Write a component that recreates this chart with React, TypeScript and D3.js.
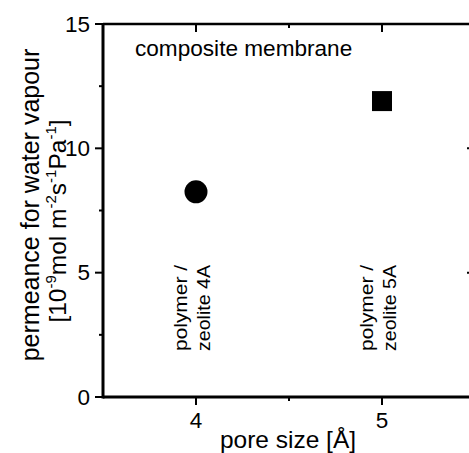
import React from "react";
import * as d3 from "d3";

const poreSizes = [4, 5];
const permeance = [8.25, 11.9];
const markerShapes = ["circle", "square"];
const labelLine1 = ["polymer /", "polymer /"];
const labelLine2 = ["zeolite 4A", "zeolite 5A"];
const xMajorTicks = [4, 5];
const xMinorTicks = [4.5];
const yMajorTicks = [0, 5, 10, 15];
const yMinorTicks = [2.5, 7.5, 12.5];

const W = 469;
const H = 453;
const FONT = "'Liberation Sans', Arial, Helvetica, sans-serif";

export default function App() {
  const x = d3.scaleLinear().domain([3.5, 5.5]).range([103, 475]);
  const y = d3.scaleLinear().domain([0, 15]).range([397, 24]);
  const [x0, x1] = x.range();
  const [yb, yt] = y.range();
  const sw = 2.5;
  const major = 8;
  const minor = 4;

  return (
    <svg
      width={W}
      height={H}
      style={{ position: "absolute", left: 0, top: 0, background: "#fff" }}
      fontFamily={FONT}
    >
      <rect x={0} y={0} width={W} height={H} fill="#fff" />
      {/* frame */}
      <line x1={x0} x2={x1} y1={yt} y2={yt} stroke="#000" strokeWidth={sw} />
      <line x1={x0} x2={x1} y1={yb} y2={yb} stroke="#000" strokeWidth={3} />
      <line x1={x0} x2={x0} y1={yt - 1} y2={yb + 1.5} stroke="#000" strokeWidth={3} />
      <line x1={x1} x2={x1} y1={yt} y2={yb} stroke="#000" strokeWidth={sw} />

      {/* y ticks left (outward) and right (inward) */}
      {yMajorTicks.map((t) => (
        <g key={"ym" + t}>
          <line x1={x0 - major} x2={x0} y1={y(t)} y2={y(t)} stroke="#000" strokeWidth={2} />
          <line x1={x1 - major} x2={x1} y1={y(t)} y2={y(t)} stroke="#000" strokeWidth={2} />
          <text
            x={x0 - 13}
            y={y(t)}
            textAnchor="end"
            dominantBaseline="central"
            fontSize={22.5}
            fill="#000"
          >
            {t}
          </text>
        </g>
      ))}
      {yMinorTicks.map((t) => (
        <g key={"yn" + t}>
          <line x1={x0 - minor} x2={x0} y1={y(t)} y2={y(t)} stroke="#000" strokeWidth={2} />
          <line x1={x1 - minor} x2={x1} y1={y(t)} y2={y(t)} stroke="#000" strokeWidth={2} />
        </g>
      ))}

      {/* x ticks bottom (outward) and top (inward) */}
      {xMajorTicks.map((t) => (
        <g key={"xm" + t}>
          <line x1={x(t)} x2={x(t)} y1={yb} y2={yb + major} stroke="#000" strokeWidth={2} />
          <line x1={x(t)} x2={x(t)} y1={yt} y2={yt + major} stroke="#000" strokeWidth={2} />
          <text x={x(t)} y={yb + 31} textAnchor="middle" fontSize={22.5} fill="#000">
            {t}
          </text>
        </g>
      ))}
      {xMinorTicks.map((t) => (
        <g key={"xn" + t}>
          <line x1={x(t)} x2={x(t)} y1={yb} y2={yb + minor} stroke="#000" strokeWidth={2} />
          <line x1={x(t)} x2={x(t)} y1={yt} y2={yt + minor} stroke="#000" strokeWidth={2} />
        </g>
      ))}

      {/* axis titles */}
      <text x={x(4.5) - 1} y={448} textAnchor="middle" fontSize={24.5} fill="#000">
        pore size [Å]
      </text>
      <text
        transform={`translate(39, 205) rotate(-90)`}
        textAnchor="middle"
        fontSize={25}
        fill="#000"
      >
        permeance for water vapour
      </text>
      <text
        transform={`translate(66, 221) rotate(-90)`}
        textAnchor="middle"
        fontSize={24.5}
        fill="#000"
      >
        [10
        <tspan fontSize={15} dy={-10}>-9</tspan>
        <tspan dy={10}>mol m</tspan>
        <tspan fontSize={15} dy={-10}>-2</tspan>
        <tspan dy={10}>s</tspan>
        <tspan fontSize={15} dy={-10}>-1</tspan>
        <tspan dy={10}>Pa</tspan>
        <tspan fontSize={15} dy={-10}>-1</tspan>
        <tspan dy={10}>]</tspan>
      </text>

      {/* annotation */}
      <text x={135} y={56} fontSize={22.6} fill="#000">
        composite membrane
      </text>

      {/* data markers */}
      {poreSizes.map((p, i) =>
        markerShapes[i] === "circle" ? (
          <circle key={"m" + i} cx={x(p)} cy={y(permeance[i])} r={11.5} fill="#000" />
        ) : (
          <rect
            key={"m" + i}
            x={x(p) - 10}
            y={y(permeance[i]) - 10}
            width={20}
            height={20}
            fill="#000"
          />
        )
      )}

      {/* rotated labels */}
      {poreSizes.map((p, i) => (
        <g key={"l" + i}>
          <text
            transform={`translate(${x(p) - 9}, 351) rotate(-90)`}
            fontSize={18}
            textLength={86}
            lengthAdjust="spacingAndGlyphs"
            fill="#000"
          >
            {labelLine1[i]}
          </text>
          <text
            transform={`translate(${x(p) + 14}, 351) rotate(-90)`}
            fontSize={18}
            textLength={86}
            lengthAdjust="spacingAndGlyphs"
            fill="#000"
          >
            {labelLine2[i]}
          </text>
        </g>
      ))}
    </svg>
  );
}
